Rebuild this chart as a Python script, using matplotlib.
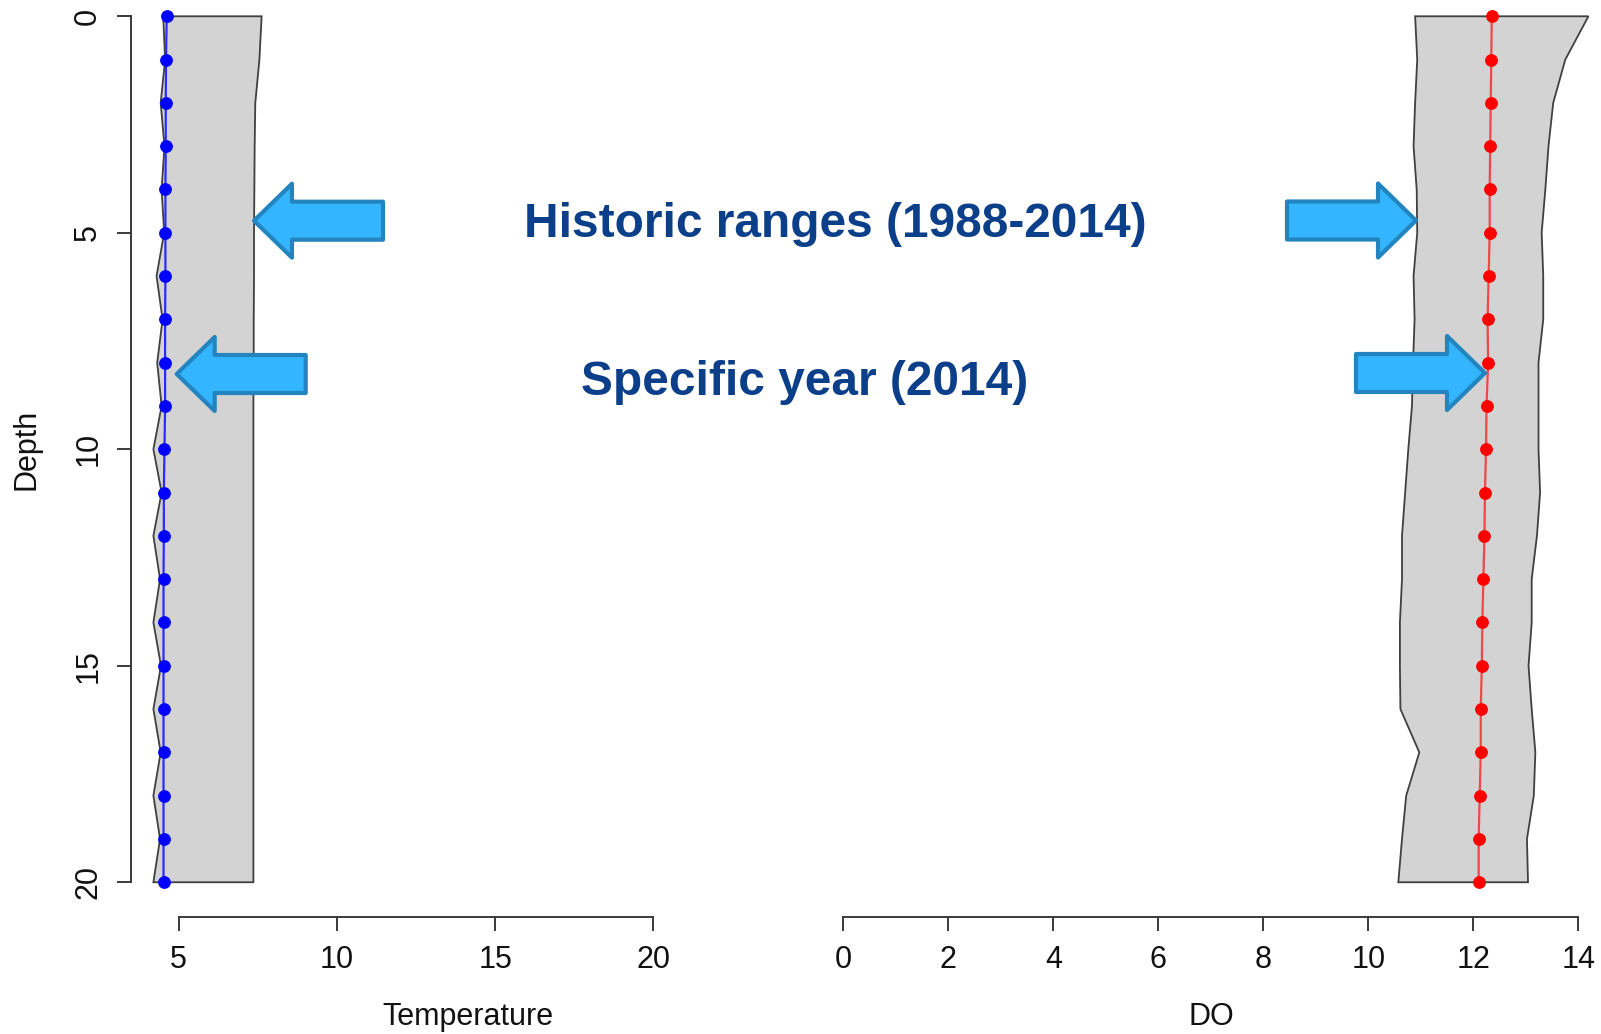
import matplotlib
matplotlib.use("Agg")
import matplotlib.pyplot as plt
from matplotlib.patches import Polygon

# ---------------------------------------------------------------- data
depth = list(range(21))

temp_min = [4.51, 4.57, 4.43, 4.55, 4.46, 4.54, 4.30, 4.49, 4.32, 4.46, 4.20,
            4.46, 4.20, 4.41, 4.20, 4.44, 4.20, 4.43, 4.20, 4.41, 4.20]
temp_max = [7.62, 7.55, 7.42, 7.40, 7.39, 7.38, 7.38, 7.37, 7.37, 7.36, 7.36,
            7.36, 7.36, 7.36, 7.36, 7.36, 7.36, 7.36, 7.36, 7.36, 7.36]
temp_2014 = [4.62, 4.60, 4.59, 4.59, 4.58, 4.58, 4.58, 4.57, 4.57, 4.57, 4.55,
             4.53, 4.53, 4.52, 4.52, 4.52, 4.52, 4.52, 4.52, 4.52, 4.52]

do_min = [10.89, 10.93, 10.89, 10.86, 10.92, 10.93, 10.86, 10.88, 10.85, 10.83, 10.76,
          10.70, 10.64, 10.64, 10.60, 10.60, 10.61, 10.97, 10.72, 10.64, 10.57]
do_max = [14.19, 13.75, 13.52, 13.43, 13.37, 13.30, 13.33, 13.33, 13.24, 13.24, 13.24,
          13.27, 13.21, 13.11, 13.11, 13.05, 13.11, 13.18, 13.15, 13.02, 13.04]
do_2014 = [12.35, 12.34, 12.33, 12.32, 12.31, 12.31, 12.29, 12.27, 12.28, 12.25, 12.24,
           12.22, 12.21, 12.19, 12.17, 12.16, 12.14, 12.14, 12.12, 12.10, 12.10]

depth_ticks = [0, 5, 10, 15, 20]
temp_ticks = [5, 10, 15, 20]
do_ticks = [0, 2, 4, 6, 8, 10, 12, 14]

label_historic = "Historic ranges (1988-2014)"
label_year = "Specific year (2014)"

# ---------------------------------------------------------------- layout
W, H, DPI = 1601, 1034, 100
plt.rcParams['font.family'] = ['Liberation Sans', 'DejaVu Sans']

fig = plt.figure(figsize=(W / DPI, H / DPI), dpi=DPI, facecolor='white')


def box(x0, x1, ytop, ybot):
    """Axes rectangle from pixel edges (origin top-left)."""
    return [x0 / W, 1 - ybot / H, (x1 - x0) / W, (ybot - ytop) / H]


AXIS_COL = '#3a3a3a'
FS = 22
DEPTH_LIM = (20.80, -0.376)


def profile_panel(rect, xlim, xticks, show_y, vmin, vmax, v2014, line_col, pt_col):
    ax = fig.add_axes(rect)
    ax.set_xlim(*xlim)
    ax.set_ylim(*DEPTH_LIM)
    ax.patch.set_alpha(0)

    xs = list(vmin) + list(vmax)[::-1]
    ys = list(depth) + list(depth)[::-1]
    ax.fill(xs, ys, facecolor='#d3d3d3', edgecolor='#404040', linewidth=1.3,
            zorder=2, clip_on=False)
    ax.plot(v2014, depth, color=line_col, linewidth=1.6, zorder=3, clip_on=False)
    ax.plot(v2014, depth, linestyle='none', marker='o', markersize=8.2,
            markerfacecolor=pt_col, markeredgecolor=pt_col, zorder=4, clip_on=False)

    for s in ('top', 'right'):
        ax.spines[s].set_visible(False)
    ax.spines['bottom'].set_bounds(xticks[0], xticks[-1])
    ax.spines['bottom'].set_color(AXIS_COL)
    ax.spines['bottom'].set_linewidth(1.4)
    ax.set_xticks(xticks)
    ax.set_xticklabels([str(t) for t in xticks])
    ax.tick_params(axis='x', direction='out', length=10.3, width=1.4,
                   color=AXIS_COL, labelsize=FS, pad=10, labelcolor='#111111')

    if show_y:
        ax.spines['left'].set_bounds(depth_ticks[0], depth_ticks[-1])
        ax.spines['left'].set_color(AXIS_COL)
        ax.spines['left'].set_linewidth(1.4)
        ax.set_yticks(depth_ticks)
        ax.set_yticklabels([str(t) for t in depth_ticks])
        ax.tick_params(axis='y', direction='out', length=10.3, width=1.4,
                       color=AXIS_COL, labelsize=FS, pad=9.5, labelcolor='#111111')
        for lbl in ax.get_yticklabels():
            lbl.set_rotation(90)
            lbl.set_va('center')
    else:
        ax.spines['left'].set_visible(False)
        ax.set_yticks([])
    return ax


ax_t = profile_panel(box(130.7, 674, 0, 916.9), (3.483, 20.65), temp_ticks, True,
                     temp_min, temp_max, temp_2014, '#2b2bff', '#0000ff')
ax_d = profile_panel(box(800, 1601, 0, 916.9), (-0.825, 14.43), do_ticks, False,
                     do_min, do_max, do_2014, '#f04848', '#ff0000')

# axis titles
fig.text(467.6 / W, 1 - 1025 / H, "Temperature", ha='center', va='baseline',
         fontsize=FS, color='#111111')
fig.text(1211 / W, 1 - 1025 / H, "DO", ha='center', va='baseline',
         fontsize=FS, color='#111111')
fig.text(26 / W, 1 - 449 / H, "Depth", ha='center', va='center', rotation=90,
         fontsize=FS, color='#111111')

# ---------------------------------------------------------------- call-outs
over = fig.add_axes([0, 0, 1, 1], zorder=10)
over.set_xlim(0, W)
over.set_ylim(H, 0)
over.axis('off')
over.patch.set_alpha(0)

HEAD_L, HEAD_HW, SHAFT_HW, TOTAL_L = 38, 37, 19, 129


def block_arrow(tip_x, tip_y, direction):
    d = 1 if direction == 'left' else -1
    pts = [(tip_x, tip_y),
           (tip_x + d * HEAD_L, tip_y - HEAD_HW),
           (tip_x + d * HEAD_L, tip_y - SHAFT_HW),
           (tip_x + d * TOTAL_L, tip_y - SHAFT_HW),
           (tip_x + d * TOTAL_L, tip_y + SHAFT_HW),
           (tip_x + d * HEAD_L, tip_y + SHAFT_HW),
           (tip_x + d * HEAD_L, tip_y + HEAD_HW)]
    over.add_patch(Polygon(pts, closed=True, facecolor='#33b5ff', edgecolor='#2385bf',
                           linewidth=3.0, joinstyle='round'))


block_arrow(254, 220.7, 'left')
block_arrow(176.7, 374, 'left')
block_arrow(1416, 220.5, 'right')
block_arrow(1485, 373, 'right')

TXT_COL = '#0c3f8a'
over.text(835, 237, label_historic, ha='center', va='baseline', fontsize=34.5,
          fontweight='bold', color=TXT_COL)
over.text(805, 395, label_year, ha='center', va='baseline', fontsize=34.5,
          fontweight='bold', color=TXT_COL)

fig.savefig("out.png", dpi=DPI, facecolor='white')
